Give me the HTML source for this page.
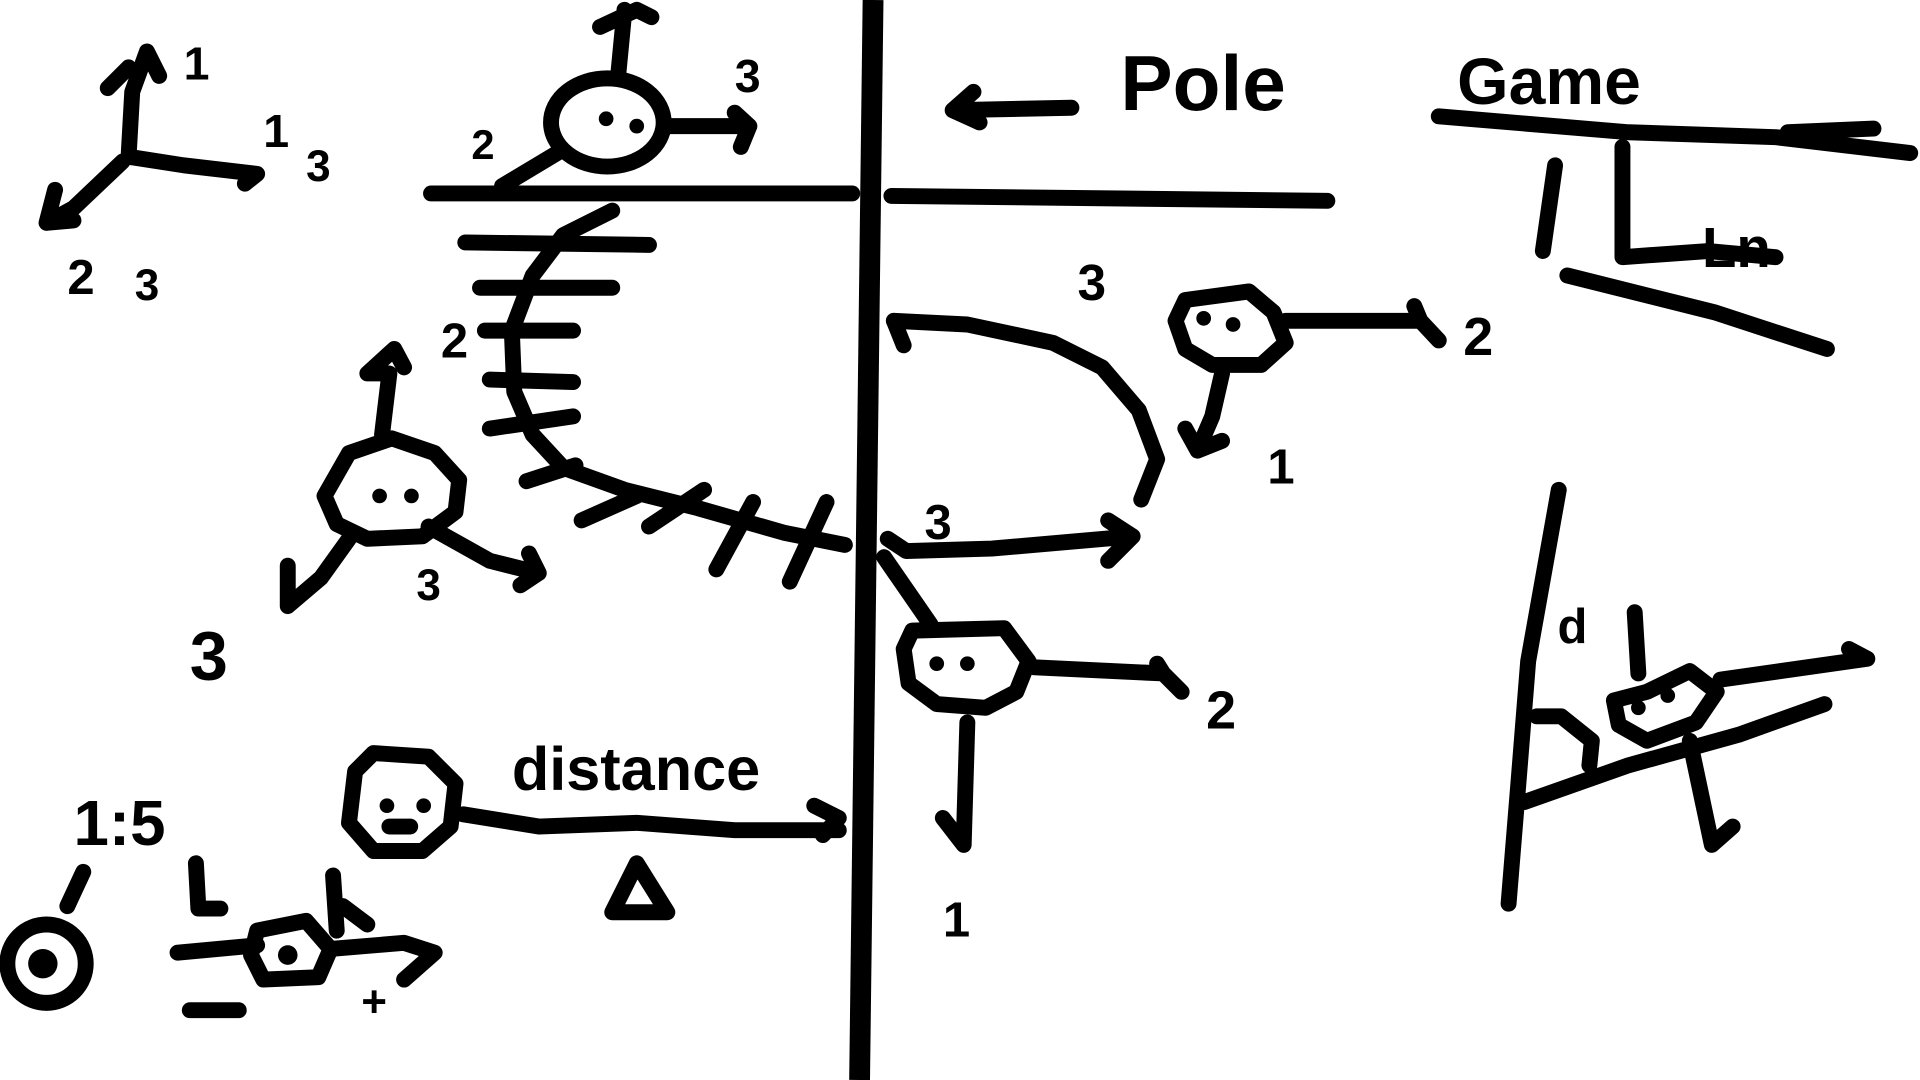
<!DOCTYPE html>
<html><head><meta charset="utf-8"><title>Sketch</title>
<style>
html,body{margin:0;padding:0;background:#fff;width:1920px;height:1080px;overflow:hidden}
svg{display:block}
.s{fill:none;stroke:#000;stroke-width:13;stroke-linecap:round;stroke-linejoin:round}
.t{font-family:"Liberation Sans",sans-serif;font-weight:bold;fill:#000}
</style></head>
<body>
<svg width="1920" height="1080" viewBox="0 0 1568 882" preserveAspectRatio="none">
<rect width="1568" height="882" fill="#fff"/>
<path d="M713 0 L702 882" stroke="#000" stroke-width="17" fill="none"/>
<path class="s" d="M352 158 L696 158" stroke-width="13"/>
<path class="s" d="M728 160 L1084 164" stroke-width="13"/>
<g>
<path class="s" d="M105 128 L108 75 L120 42 L130 62"/>
<path class="s" d="M88 72 L105 55"/>
<path class="s" d="M105 128 L150 135 L210 142 L200 150"/>
<path class="s" d="M100 132 L60 170 L38 182 L60 180 M38 182 L45 155"/>
<text class="t" x="150" y="65" font-size="38">1</text>
<text class="t" x="215" y="120" font-size="38">1</text>
<text class="t" x="55" y="240" font-size="40">2</text>
<text class="t" x="110" y="245" font-size="36">3</text>
<text class="t" x="250" y="148" font-size="36">3</text>
</g>
<g>
<ellipse class="s" cx="496" cy="100" rx="46" ry="36" stroke-width="15"/>
<circle cx="495" cy="97" r="6"/><circle cx="520" cy="103" r="6"/>
<path class="s" d="M545 103 L612 103 M600 92 L612 103 L605 120"/>
<path class="s" d="M505 60 L510 8 M490 22 L520 8 L532 14"/>
<path class="s" d="M455 125 L410 152"/>
<text class="t" x="600" y="75" font-size="38">3</text>
<text class="t" x="385" y="130" font-size="34">2</text>
</g>
<g>
<path class="s" d="M380 198 L530 200 M392 235 L500 235 M396 270 L468 270 M400 310 L468 312 M400 350 L468 340"/>
<path class="s" d="M500 172 L460 192 L435 225 L418 270 L420 320 L435 355 L460 382 L510 400 L570 415 L640 435 L690 445"/>
<path class="s" d="M475 425 L520 405 M530 430 L575 400 M585 465 L615 410 M645 475 L675 410 M430 393 L470 380"/>
<text class="t" x="360" y="292" font-size="40">2</text>
</g>
<g>
<path class="s" d="M285 370 L320 358 L355 370 L375 392 L372 418 L345 438 L300 440 L275 428 L265 405 Z"/>
<circle cx="310" cy="405" r="6"/><circle cx="336" cy="405" r="6"/>
<path class="s" d="M312 355 L318 305 L300 305 L322 285 L330 300"/>
<path class="s" d="M285 440 L262 472 L235 495 L235 462"/>
<path class="s" d="M350 430 L400 458 L440 468 L425 478 M432 452 L440 468"/>
<text class="t" x="155" y="555" font-size="56">3</text>
<text class="t" x="340" y="490" font-size="36">3</text>
</g>
<g>
<path class="s" d="M730 262 L790 265 L860 280 L900 300 L930 335 L945 375 L932 408"/>
<path class="s" d="M730 262 L738 282"/>
<path class="s" d="M968 245 L1020 238 L1040 255 L1050 280 L1030 298 L990 298 L968 285 L960 262 Z"/>
<circle cx="983" cy="260" r="6"/><circle cx="1007" cy="265" r="6"/>
<path class="s" d="M1050 262 L1160 262 L1175 278 M1155 250 L1160 262"/>
<path class="s" d="M998 305 L990 340 L978 368 L998 360 M978 368 L968 350"/>
<text class="t" x="1195" y="290" font-size="44">2</text>
<text class="t" x="880" y="245" font-size="42">3</text>
<text class="t" x="1035" y="395" font-size="40">1</text>
</g>
<g>
<path class="s" d="M725 440 L740 450 L810 448 L925 438 M905 425 L925 438 L905 458"/>
<text class="t" x="755" y="440" font-size="40">3</text>
</g>
<g>
<path class="s" d="M722 455 L760 510"/>
<path class="s" d="M745 515 L820 513 L840 540 L830 565 L805 578 L765 575 L742 558 L738 530 Z"/>
<circle cx="765" cy="542" r="6"/><circle cx="790" cy="542" r="6"/>
<path class="s" d="M845 545 L950 550 L965 565 M945 542 L950 550"/>
<path class="s" d="M790 590 L787 690 L770 668"/>
<text class="t" x="985" y="595" font-size="44">2</text>
<text class="t" x="770" y="765" font-size="40">1</text>
</g>
<g>
<path class="s" d="M305 615 L350 618 L372 640 L368 675 L345 695 L305 695 L285 672 L290 630 Z"/>
<circle cx="316" cy="658" r="6"/><circle cx="346" cy="658" r="6"/>
<path class="s" d="M318 675 L335 675"/>
<path class="s" d="M378 665 L440 675 L520 672 L600 678 L685 678 M665 658 L685 668 L672 682"/>
<text class="t" x="418" y="645" font-size="50">distance</text>
<path class="s" d="M500 745 L520 705 L545 745 Z"/>
</g>
<g>
<text class="t" x="60" y="690" font-size="52">1:5</text>
<circle class="s" cx="38" cy="787" r="32"/><circle cx="35" cy="787" r="12"/>
<path class="s" d="M55 740 L68 712"/>
<path class="s" d="M145 778 L210 772"/>
<path class="s" d="M160 705 L162 742 L180 742"/>
<path class="s" d="M210 760 L250 752 L270 775 L260 798 L215 800 L205 780 Z"/>
<circle cx="235" cy="780" r="8"/>
<path class="s" d="M270 775 L330 770 L355 778 L330 800"/>
<path class="s" d="M272 715 L275 760 M280 740 L300 755"/>
<path class="s" d="M155 825 L195 825"/>
<text class="t" x="295" y="830" font-size="36">+</text>
</g>
<g>
<text class="t" x="1190" y="85" font-size="54">Game</text>
<path class="s" d="M1175 95 L1330 108 L1450 112 L1560 125"/>
<path class="s" d="M1460 108 L1530 105"/>
<path class="s" d="M1325 120 L1325 210 L1395 205 L1450 210"/>
<path class="s" d="M1270 135 L1260 205"/>
<path class="s" d="M1280 225 L1400 255 L1492 285"/>
<text class="t" x="1390" y="218" font-size="46">Ln</text>
</g>
<g>
<path class="s" d="M1273 400 L1248 540 L1240 640 L1232 738"/>
<path class="s" d="M1245 655 L1330 625 L1420 600 L1490 575"/>
<path class="s" d="M1345 565 L1380 548 L1402 565 L1385 590 L1345 605 L1322 592 L1318 572 Z"/>
<circle cx="1338" cy="578" r="6"/><circle cx="1362" cy="568" r="6"/>
<path class="s" d="M1405 555 L1525 538 M1510 530 L1525 538"/>
<path class="s" d="M1380 605 L1398 690 L1415 675"/>
<path class="s" d="M1255 585 L1275 585 L1300 605 L1298 625"/>
<path class="s" d="M1335 500 L1338 550"/>
<text class="t" x="1272" y="525" font-size="40">d</text>
</g>
<g>
<path class="s" d="M778 90 L875 88 M795 75 L778 90 L800 100"/>
<text class="t" x="915" y="90" font-size="64">Pole</text>
</g>
</svg>
</body></html>
